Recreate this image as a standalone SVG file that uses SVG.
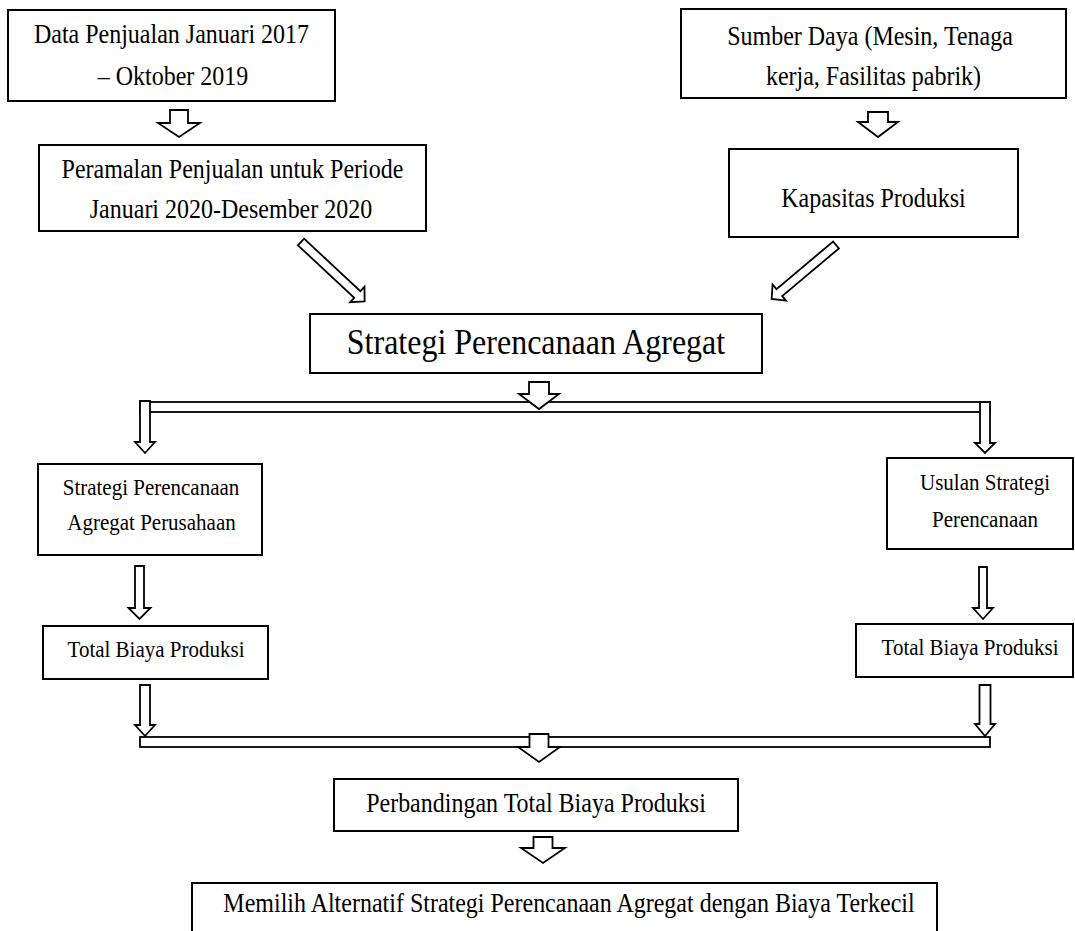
<svg xmlns="http://www.w3.org/2000/svg" width="1075" height="931" viewBox="0 0 1075 931">
<style>
.box{fill:#fff;stroke:#000;stroke-width:2}
.arr{fill:#fff;stroke:#000;stroke-width:1.8;stroke-linejoin:miter}
.t{font-family:"Liberation Serif","Times New Roman",serif;fill:#000;text-anchor:middle}
.t24{font-size:24px}
.t21{font-size:21px}
.t32{font-size:32px}
</style>
<rect width="1075" height="931" fill="#fff"/>
<g id="n1">
<rect class="box" x="8" y="10" width="327" height="91"/>
<text class="t t24" transform="translate(171.5,43) scale(1,1.1)">Data Penjualan Januari 2017</text>
<text class="t t24" transform="translate(173,85) scale(1,1.1)">– Oktober 2019</text>
</g>
<g id="n2">
<rect class="box" x="39" y="145" width="387" height="86"/>
<text class="t t24" transform="translate(232.5,178) scale(1,1.1)">Peramalan Penjualan untuk Periode</text>
<text class="t t24" transform="translate(231,218) scale(1,1.1)">Januari 2020-Desember 2020</text>
</g>
<g id="n3">
<rect class="box" x="681" y="9" width="385" height="89"/>
<text class="t t24" transform="translate(870,45) scale(1,1.1)">Sumber Daya (Mesin, Tenaga</text>
<text class="t t24" transform="translate(873.5,85) scale(1,1.1)">kerja, Fasilitas pabrik)</text>
</g>
<g id="n4">
<rect class="box" x="729" y="149" width="289" height="88"/>
<text class="t t24" transform="translate(873.5,207) scale(1,1.1)">Kapasitas Produksi</text>
</g>
<g id="n5">
<rect class="box" x="310" y="314" width="452" height="59"/>
<text class="t t32" transform="translate(536,354) scale(1,1.1)">Strategi Perencanaan Agregat</text>
</g>
<g id="n6">
<rect class="box" x="38" y="464" width="224" height="91"/>
<text class="t t21" transform="translate(151,495) scale(1,1.1)">Strategi Perencanaan</text>
<text class="t t21" transform="translate(151.5,530) scale(1,1.1)">Agregat Perusahaan</text>
</g>
<g id="n7">
<rect class="box" x="887" y="458" width="186" height="91"/>
<text class="t t21" transform="translate(985,490) scale(1,1.1)">Usulan Strategi</text>
<text class="t t21" transform="translate(985,527) scale(1,1.1)">Perencanaan</text>
</g>
<g id="n8">
<rect class="box" x="43" y="626" width="225" height="53"/>
<text class="t t21" transform="translate(156,657) scale(1,1.1)">Total Biaya Produksi</text>
</g>
<g id="n9">
<rect class="box" x="856" y="624" width="217" height="53"/>
<text class="t t21" transform="translate(970,655) scale(1,1.1)">Total Biaya Produksi</text>
</g>
<g id="n10">
<rect class="box" x="334" y="779" width="404" height="52"/>
<text class="t t24" transform="translate(536,812) scale(1,1.1)">Perbandingan Total Biaya Produksi</text>
</g>
<g id="n11">
<rect class="box" x="192" y="883" width="745" height="60"/>
<text class="t t24" transform="translate(569,912) scale(1,1.1)">Memilih Alternatif Strategi Perencanaan Agregat dengan Biaya Terkecil</text>
</g>
<g id="connectors">
<rect class="arr" x="140" y="402" width="850" height="10"/>
<rect class="arr" x="140" y="737" width="850" height="10"/>
<polygon class="arr" points="170,110 188,110 188,123 200,123 179,137 158,123 170,123"/>
<polygon class="arr" points="868,112 888,112 888,122 898,122 878,137 858,122 868,122"/>
<polygon class="arr" transform="translate(301,242) rotate(43)" points="0,-4.5 77,-4.5 77,-10.5 87,0 77,10.5 77,4.5 0,4.5"/>
<polygon class="arr" transform="translate(836,245) rotate(140)" points="0,-4.5 74,-4.5 74,-10.5 84,0 74,10.5 74,4.5 0,4.5"/>
<polygon class="arr" points="529,382 549,382 549,394 559,394 539,409 519,394 529,394"/>
<polygon class="arr" points="140,401 150,401 150,442 155,442 145,453 135,442 140,442"/>
<polygon class="arr" points="980,402 990,402 990,443 995,443 985,453 975,443 980,443"/>
<polygon class="arr" points="135,566 144,566 144,608 150.5,608 139.5,619 128.5,608 135,608"/>
<polygon class="arr" points="979,567 987,567 987,608 993,608 983,619 973,608 979,608"/>
<polygon class="arr" points="140,685 150,685 150,725 155,725 145,736 135,725 140,725"/>
<polygon class="arr" points="979.5,685 990.5,685 990.5,724 995,724 985,736 975,724 979.5,724"/>
<polygon class="arr" points="529.5,734 548.5,734 548.5,747 560,747 539,762 518,747 529.5,747"/>
<polygon class="arr" points="533.5,837 552.5,837 552.5,848 565,848 543,863 521,848 533.5,848"/>
</g>
</svg>
